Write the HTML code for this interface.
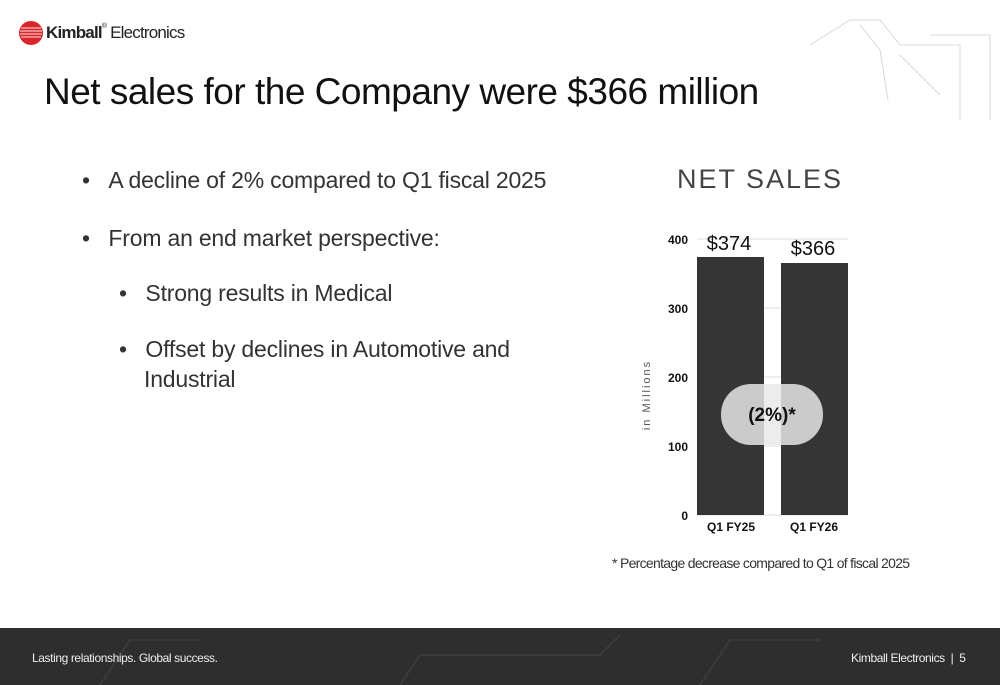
<!DOCTYPE html>
<html><head><style>
body{margin:0;width:1000px;height:685px;overflow:hidden;background:#fff;font-family:"Liberation Sans",sans-serif;position:relative}
.a{position:absolute;white-space:nowrap}
</style></head><body>
<svg class="a" style="left:18px;top:18px" width="26" height="30"><circle cx="13" cy="15" r="12" fill="#d9262c"/><g stroke="#f4c0c0" stroke-width="1.3"><line x1="3" y1="10" x2="23" y2="10"/><line x1="2" y1="13" x2="24" y2="13"/><line x1="2" y1="16" x2="24" y2="16"/><line x1="3" y1="19" x2="23" y2="19"/></g></svg>
<div class="a" style="left:46px;top:23px;font-size:17px;color:#222;letter-spacing:-0.8px"><b>Kimball</b><span style="font-size:7px;vertical-align:top">®</span> Electronics</div>
<div class="a" style="left:44px;top:71px;font-size:37px;color:#111;letter-spacing:-0.5px">Net sales for the Company were $366 million</div>
<div class="a" style="left:82px;top:167px;font-size:23px;color:#333;letter-spacing:-0.2px">•&nbsp;&nbsp;&nbsp;A decline of 2% compared to Q1 fiscal 2025</div>
<div class="a" style="left:82px;top:225px;font-size:23px;color:#333;letter-spacing:-0.2px">•&nbsp;&nbsp;&nbsp;From an end market perspective:</div>
<div class="a" style="left:119px;top:280px;font-size:23px;color:#333;letter-spacing:-0.2px">•&nbsp;&nbsp;&nbsp;Strong results in Medical</div>
<div class="a" style="left:119px;top:336px;font-size:23px;color:#333;letter-spacing:-0.2px">•&nbsp;&nbsp;&nbsp;Offset by declines in Automotive and</div>
<div class="a" style="left:144px;top:366px;font-size:23px;color:#333;letter-spacing:-0.2px">Industrial</div>
<div class="a" style="left:677px;top:164px;font-size:27px;color:#444;letter-spacing:2px">NET SALES</div>
<svg class="a" style="left:0;top:0" width="1000" height="685">
<g stroke="#e8e8e8" stroke-width="1.5"><line x1="697" y1="239" x2="848" y2="239"/><line x1="697" y1="308" x2="848" y2="308"/><line x1="697" y1="377" x2="848" y2="377"/><line x1="697" y1="446" x2="848" y2="446"/><line x1="697" y1="515" x2="848" y2="515"/></g>
<rect x="697" y="257" width="67" height="258" fill="#353535"/>
<rect x="781" y="263" width="67" height="252" fill="#353535"/>
<rect x="721" y="384" width="102" height="61" rx="30" fill="#d4d4d4" opacity="0.95"/>
<rect x="764" y="384" width="17" height="61" fill="#ececec"/>
<g font-family="Liberation Sans" font-weight="bold" font-size="12" fill="#111" text-anchor="end"><text x="688" y="244">400</text><text x="688" y="313">300</text><text x="688" y="382">200</text><text x="688" y="451">100</text><text x="688" y="520">0</text></g>
<g font-family="Liberation Sans" font-weight="bold" font-size="12" fill="#111" text-anchor="middle"><text x="731" y="531">Q1 FY25</text><text x="814" y="531">Q1 FY26</text></g>
<g font-family="Liberation Sans" font-size="20" fill="#111" text-anchor="middle"><text x="729" y="250">$374</text><text x="813" y="255">$366</text></g>
<text x="772" y="421" font-family="Liberation Sans" font-weight="bold" font-size="19" fill="#111" text-anchor="middle">(2%)*</text>
<text transform="translate(650,395) rotate(-90)" font-family="Liberation Sans" font-size="11" fill="#555" text-anchor="middle" letter-spacing="2">in Millions</text>
<g stroke="#d8d8d8" fill="none" stroke-width="1"><path d="M810 45 L850 20 L880 20 L900 45 L960 45 L960 120"/><path d="M860 25 L880 50 L888 100"/><path d="M900 55 L940 95"/><path d="M930 35 L990 35 L990 120"/></g>
<rect x="0" y="628" width="1000" height="57" fill="#2e2e2e"/>
<g stroke="#444" fill="none"><path d="M100 685 L130 640 L200 640"/><path d="M400 685 L420 655 L600 655 L620 635"/><path d="M700 685 L730 640 L820 640"/></g>
</svg>
<div class="a" style="left:612px;top:555px;font-size:14px;color:#333;letter-spacing:-0.7px">* Percentage decrease compared to Q1 of fiscal 2025</div>
<div class="a" style="left:32px;top:651px;font-size:12px;color:#eee;letter-spacing:-0.4px">Lasting relationships. Global success.</div>
<div class="a" style="left:851px;top:651px;font-size:12px;color:#eee;letter-spacing:-0.4px">Kimball Electronics&nbsp; |&nbsp; 5</div>
</body></html>
